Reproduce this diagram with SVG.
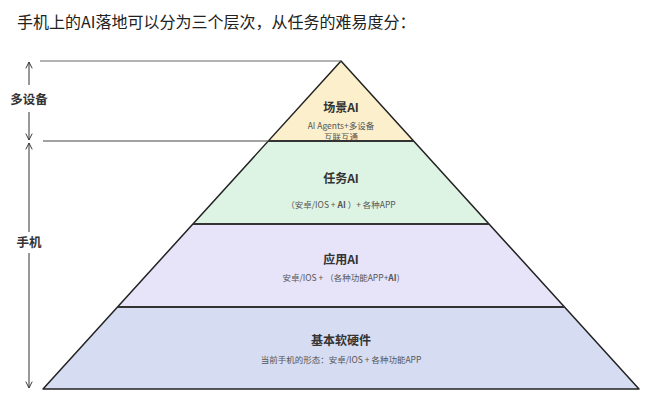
<svg xmlns="http://www.w3.org/2000/svg" width="659" height="417" viewBox="0 0 659 417">
<style>
.t{font-family:"Noto Sans CJK SC","Noto Sans",sans-serif;text-anchor:middle}
.h{font-size:12px;font-weight:bold;fill:#333}
.s{font-size:8.5px;fill:#555}
.side{font-family:"Noto Sans CJK SC","Noto Sans",sans-serif;font-size:12.5px;font-weight:bold;fill:#333;text-anchor:middle}
.ax{stroke:#333;stroke-width:1;fill:none}
.bd{stroke:#333;stroke-width:2}
</style>
<defs>
<marker id="ah" viewBox="0 0 10 10" refX="9" refY="5" markerWidth="8" markerHeight="8" orient="auto-start-reverse" markerUnits="userSpaceOnUse">
<path d="M1,1 L9,5 L1,9" fill="none" stroke="#333" stroke-width="1.2"/>
</marker>
</defs>
<rect width="659" height="417" fill="#fff"/>
<text x="17" y="28" font-family="Noto Sans CJK SC,Noto Sans,sans-serif" font-size="16" fill="#222">手机上的AI落地可以分为三个层次，从任务的难易度分：</text>

<g id="layer-scene">
<polygon points="341,61 268.3,141 413.7,141" fill="#fcefcb"/>
<text class="t h" x="341" y="112">场景AI</text>
<text class="t s" x="341" y="129">AI Agents+多设备</text>
<text class="t s" x="341" y="139.5">互联互通</text>
</g>
<g id="layer-task">
<polygon points="268.3,141 413.7,141 489.1,224 192.9,224" fill="#ddf3e3"/>
<text class="t h" x="341" y="183">任务AI</text>
<text class="t s" x="341" y="208">（安卓/IOS + <tspan font-weight="bold">AI</tspan> ）+ 各种APP</text>
</g>
<g id="layer-app">
<polygon points="192.9,224 489.1,224 564.5,307 117.5,307" fill="#e7e3f8"/>
<text class="t h" x="341" y="264">应用AI</text>
<text class="t s" x="341" y="281">安卓/IOS + （各种功能APP+<tspan font-weight="bold">AI</tspan>)</text>
</g>
<g id="layer-base">
<polygon points="117.5,307 564.5,307 639,389 43,389" fill="#d6dcf2"/>
<text class="t h" x="341" y="345">基本软硬件</text>
<text class="t s" x="341" y="363">当前手机的形态：安卓/IOS + 各种功能APP</text>
</g>

<g id="connectors">
<polygon points="341,61 639,389 43,389" fill="none" stroke="#222" stroke-width="1.5" stroke-linejoin="round"/>
<line class="bd" x1="268.3" y1="141" x2="413.7" y2="141"/>
<line class="bd" x1="192.9" y1="224" x2="489.1" y2="224"/>
<line class="bd" x1="117.5" y1="307" x2="564.5" y2="307"/>
<line x1="40" y1="61" x2="341" y2="61" stroke="#666" stroke-width="1"/>
<line x1="43" y1="141" x2="268.3" y2="141" stroke="#444" stroke-width="1"/>
<line class="ax" x1="29" y1="85" x2="29" y2="62" marker-end="url(#ah)"/>
<line class="ax" x1="29" y1="112" x2="29" y2="140" marker-end="url(#ah)"/>
<line class="ax" x1="29" y1="232" x2="29" y2="143" marker-end="url(#ah)"/>
<line class="ax" x1="29" y1="253" x2="29" y2="388" marker-end="url(#ah)"/>
</g>
<g id="label-multi"><text class="side" x="29" y="104">多设备</text></g>
<g id="label-phone"><text class="side" x="29" y="247">手机</text></g>
</svg>
